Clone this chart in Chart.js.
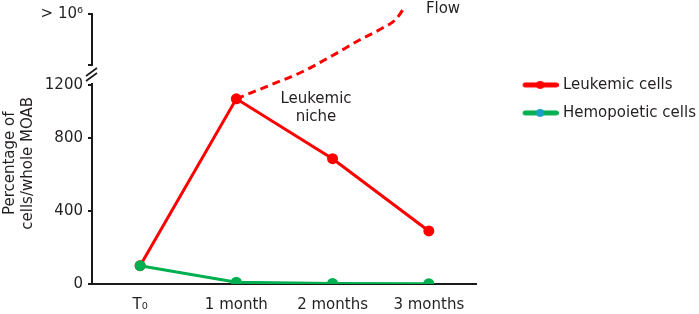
<!DOCTYPE html>
<html>
<head>
<meta charset="utf-8">
<script src="https://cdn.jsdelivr.net/npm/chart.js@4.4.1/dist/chart.umd.min.js"></script>
<style>
html,body{margin:0;padding:0;background:#fff;}
#wrap{width:699px;height:314px;position:relative;}
</style>
</head>
<body>
<div id="wrap"><canvas id="c" width="699" height="314"></canvas></div>
<script>
// ---------- data ----------
const categories = ['T\u2080', '1 month', '2 months', '3 months'];
const leukemicCells = [100, 1095, 685, 290];
const hemopoieticCells = [100, 10, 3, 2];
// dashed "Flow" branch leaving the niche after 1 month (position along the category axis, value)
const flowX = [1, 1.34, 1.68, 2.0, 2.28, 2.52, 2.65, 2.73];
const flowY = [1095, 1196, 4110, 19600, 85200, 265000, 566000, 1460000];
const yTickValues = [0, 400, 800, 1200, 1000000];
const yTickLabels = ['0', '400', '800', '1200', '> 10\u2076'];
const seriesNames = ['Leukemic cells', 'Hemopoietic cells'];

// ---------- styles ----------
const RED = '#ff0000';
const GREEN = '#00b050';
const DOT_BLUE = '#1b9fc6';
const TEXT = '#231f20';
const AXIS = '#1a1a1a';
const FONT = {family: '"DejaVu Sans", Verdana, sans-serif', size: 15};

// ---------- broken (piecewise) value axis ----------
class BrokenAxis extends Chart.LinearScale {
  buildTicks() { return yTickValues.map(v => ({value: v})); }
  _frac(v) {
    const f800 = 0.5419, f1200 = 0.737;
    if (v <= 800) return v / 800 * f800;
    if (v <= 1200) return f800 + (v - 800) / 400 * (f1200 - f800);
    return f1200 + (Math.log10(v) - Math.log10(1200)) / (6 - Math.log10(1200)) * (1 - f1200);
  }
  getPixelForValue(v) { return this.bottom - this._frac(v) * (this.bottom - this.top); }
  getValueForPixel(p) {
    const f = (this.bottom - p) / (this.bottom - this.top);
    let lo = 0, hi = 1e7;
    for (let i = 0; i < 60; i++) { const m = (lo + hi) / 2; if (this._frac(m) < f) lo = m; else hi = m; }
    return lo;
  }
}
BrokenAxis.id = 'brokenAxis';
BrokenAxis.defaults = {};
Chart.register(BrokenAxis);

function makeIcon(lineColor, dotColor) {
  const c = document.createElement('canvas');
  c.width = 72; c.height = 12;
  const g = c.getContext('2d');
  g.strokeStyle = lineColor; g.lineWidth = 5; g.lineCap = 'round';
  g.beginPath(); g.moveTo(38.5, 6); g.lineTo(69.5, 6); g.stroke();
  g.fillStyle = dotColor;
  g.beginPath(); g.arc(53.5, 6, 4, 0, Math.PI * 2); g.fill();
  return c;
}
const redIcon = makeIcon(RED, RED);
const greenIcon = makeIcon(GREEN, DOT_BLUE);

const notes = {
  id: 'notes',
  afterDraw(chart) {
    const ctx = chart.ctx;
    const ys = chart.scales.y;
    ctx.save();
    // axis break
    const x0 = ys.right;
    const p = ys.getPixelForValue(1200);
    ctx.fillStyle = '#fff';
    ctx.fillRect(x0 - 4, p - 19, 8, 17);
    ctx.strokeStyle = AXIS; ctx.lineWidth = 2;
    ctx.beginPath(); ctx.moveTo(x0 - 4, p - 20); ctx.lineTo(x0 + 1, p - 20); ctx.stroke();
    ctx.lineWidth = 1.6;
    ctx.beginPath();
    ctx.moveTo(x0 - 6, p - 9); ctx.lineTo(x0 + 5, p - 17);
    ctx.moveTo(x0 - 6, p - 4); ctx.lineTo(x0 + 5, p - 12);
    ctx.stroke();
    // annotations
    ctx.font = '15px "DejaVu Sans", Verdana, sans-serif';
    ctx.fillStyle = TEXT; ctx.textAlign = 'center'; ctx.textBaseline = 'middle';
    ctx.fillText('Leukemic', 316, 99);
    ctx.fillText('niche', 316, 117);
    ctx.fillText('Flow', 443, 9);
    ctx.restore();
  }
};

const pointStyle = (color) => ({
  borderColor: color, backgroundColor: color,
  pointBackgroundColor: color, pointBorderColor: color,
  borderWidth: 3, pointRadius: 5.5, pointBorderWidth: 0, tension: 0, fill: false
});

new Chart(document.getElementById('c'), {
  type: 'line',
  data: {
    labels: categories,
    datasets: [
      Object.assign({label: seriesNames[1], data: hemopoieticCells}, pointStyle(GREEN)),
      Object.assign({label: seriesNames[0], data: leukemicCells}, pointStyle(RED)),
      {
        label: 'Flow', xAxisID: 'x2', yAxisID: 'y',
        data: flowX.map((x, i) => ({x: x, y: flowY[i]})),
        borderColor: RED, backgroundColor: RED, borderWidth: 3, borderDash: [8, 5],
        pointRadius: 0, cubicInterpolationMode: 'monotone', clip: false, fill: false
      }
    ]
  },
  options: {
    responsive: false,
    animation: false,
    events: [],
    layout: {padding: {top: 14, right: -7, bottom: 0, left: 0}},
    scales: {
      x: {
        type: 'category', offset: true,
        grid: {display: false, drawTicks: false},
        border: {display: true, color: AXIS, width: 2},
        ticks: {color: TEXT, font: FONT, padding: 12, maxRotation: 0, autoSkip: false},
        afterFit: s => { s.height = 30; }
      },
      x2: {type: 'linear', display: false, min: -0.5, max: 3.5},
      y: {
        type: 'brokenAxis', position: 'left', min: 0, max: 1000000,
        grid: {drawOnChartArea: false, drawTicks: true, tickLength: 4, color: AXIS, lineWidth: 2},
        border: {display: true, color: AXIS, width: 2},
        ticks: {
          color: TEXT, font: FONT, padding: 5, autoSkip: false,
          callback: (v) => yTickLabels[yTickValues.indexOf(v)]
        },
        title: {
          display: true,
          text: ['Percentage of      ', 'cells/whole MOAB      '],
          color: TEXT, font: FONT, padding: {top: 1, bottom: 0}
        },
        afterFit: s => { s.width = 92; }
      }
    },
    plugins: {
      tooltip: {enabled: false},
      legend: {
        position: 'right', align: 'start', maxWidth: 400,
        title: {display: true, text: '', padding: {top: 36, bottom: 0}},
        labels: {
          usePointStyle: true, pointStyleWidth: 65.5, padding: 13,
          font: FONT, color: TEXT,
          generateLabels: () => [
            {text: seriesNames[0], pointStyle: redIcon, fillStyle: RED, strokeStyle: RED, lineWidth: 0, hidden: false, datasetIndex: 1, fontColor: TEXT},
            {text: seriesNames[1], pointStyle: greenIcon, fillStyle: GREEN, strokeStyle: GREEN, lineWidth: 0, hidden: false, datasetIndex: 0, fontColor: TEXT}
          ]
        }
      }
    }
  },
  plugins: [notes]
});
</script>
</body>
</html>
